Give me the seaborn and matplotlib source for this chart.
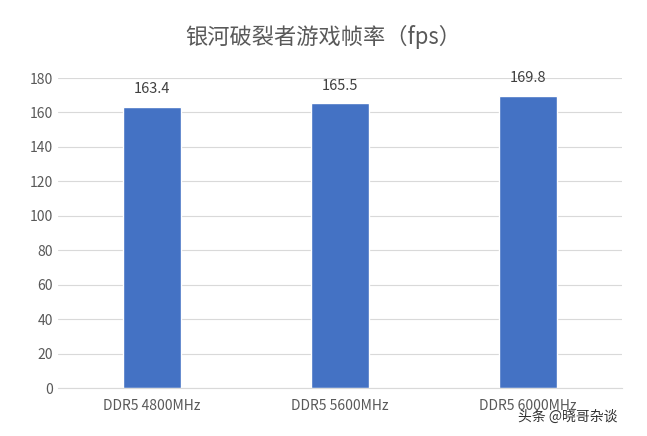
import matplotlib
matplotlib.use("Agg")
import matplotlib.pyplot as plt
import seaborn as sns
import pandas as pd

categories = ["DDR5 4800MHz", "DDR5 5600MHz", "DDR5 6000MHz"]
values = [163.4, 165.5, 169.8]
yticks = [0, 20, 40, 60, 80, 100, 120, 140, 160, 180]

sns.set_style("white")
plt.rcParams['font.family'] = ['Noto Sans CJK SC', 'DejaVu Sans']

df = pd.DataFrame({"cat": categories, "val": values})
fig = plt.figure(figsize=(6.47, 4.36), dpi=100)
ax = fig.add_axes([0.0896, 0.110, 0.872, 0.711])
sns.barplot(data=df, x="cat", y="val", color="#4472C4", width=0.31, ax=ax, saturation=1)
ax.set_ylim(0, 180)
ax.set_xlim(-0.5, 2.5)
ax.set_yticks(yticks)
ax.yaxis.grid(True, color="#D9D9D9", lw=0.8)
ax.set_axisbelow(True)
for s in ["top", "right", "left"]:
    ax.spines[s].set_visible(False)
ax.spines["bottom"].set_color("#D9D9D9")
ax.tick_params(axis="both", length=0, labelsize=10, colors="#595959")
ax.tick_params(axis="x", pad=8)
ax.set_xlabel("")
ax.set_ylabel("")
for i, v in enumerate(values):
    ax.text(i, v + 6, f"{v}", ha="center", va="bottom", fontsize=10.5, color="#404040")
fig.text(0.5, 0.915, "银河破裂者游戏帧率（fps）", ha="center", va="center", fontsize=16, color="#595959")
fig.text(0.955, 0.045, "头条 @晓哥杂谈", ha="right", va="center", fontsize=10, color="#333333")
fig.savefig("out.png", dpi=100)
